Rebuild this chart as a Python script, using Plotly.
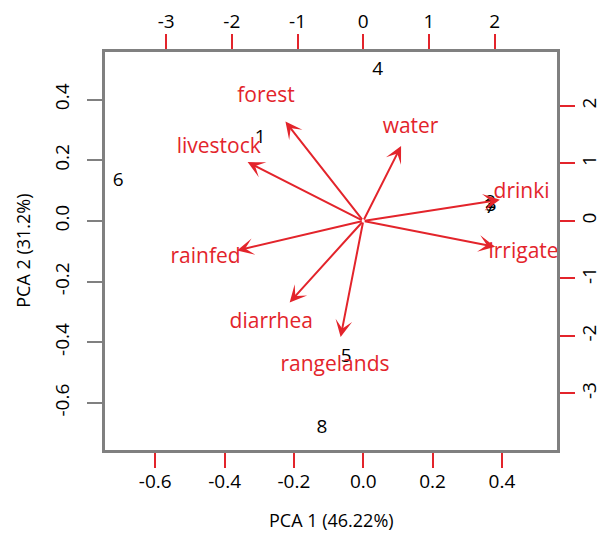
import plotly.graph_objects as go

# ---- data ----
obs_labels = ["1", "2", "3", "4", "5", "6", "7", "8"]
obs_pc1 = [-0.297, 0.367, 0.369, 0.0415, -0.049, -0.707, 0.366, -0.119]
obs_pc2 = [0.272, 0.058, 0.050, 0.4965, -0.448, 0.131, 0.042, -0.684]

var_labels = ["forest", "livestock", "rainfed", "diarrhea", "rangelands",
              "water", "drinki", "irrigate"]
# variable loadings (arrows are drawn to 80 % of these)
var_pc1 = [-1.48, -2.20, -2.40, -1.40, -0.43, 0.72, 2.60, 2.51]
var_pc2 = [2.16, 1.28, -0.64, -1.77, -2.52, 1.63, 0.46, -0.56]
# where each variable name is written
label_pc1 = [-1.48, -2.20, -2.40, -1.40, -0.43, 0.72, 2.41, 2.44]
label_pc2 = [2.16, 1.28, -0.64, -1.77, -2.52, 1.63, 0.49, -0.56]

x_ticks = [-0.6, -0.4, -0.2, 0.0, 0.2, 0.4]
x_ticktext = ["-0.6", "-0.4", "-0.2", "0.0", "0.2", "0.4"]
y_ticks = [-0.6, -0.4, -0.2, 0.0, 0.2, 0.4]
y_ticktext = ["-0.6", "-0.4", "-0.2", "0.0", "0.2", "0.4"]
top_ticks = [-3, -2, -1, 0, 1, 2]
right_ticks = [-3, -2, -1, 0, 1, 2]

x_title = "PCA 1 (46.22%)"
y_title = "PCA 2 (31.2%)"

# ---- style ----
RED = "#e3242b"
GRAY = "#808080"
FONT = "Open Sans"
ARROW_FRAC = 0.8
xr = [-0.745, 0.559]
yr = [-0.755, 0.557]
k = 5.276
x2r = [v * k for v in xr]
y2r = [v * k for v in yr]

fig = go.Figure()

fig.add_trace(go.Scatter(
    x=obs_pc1, y=obs_pc2, mode="text", text=obs_labels,
    textfont=dict(family=FONT, size=19, color="black"),
    xaxis="x", yaxis="y", cliponaxis=True, hoverinfo="skip", showlegend=False))

fig.add_trace(go.Scatter(
    x=label_pc1, y=label_pc2, mode="text", text=var_labels,
    textfont=dict(family=FONT, size=21, color=RED),
    xaxis="x2", yaxis="y2", cliponaxis=False, hoverinfo="skip", showlegend=False))

for vx, vy in zip(var_pc1, var_pc2):
    fig.add_annotation(
        x=vx * ARROW_FRAC, y=vy * ARROW_FRAC, ax=0, ay=0,
        xref="x2", yref="y2", axref="x2", ayref="y2",
        text="", showarrow=True, arrowhead=3, arrowsize=1.4,
        arrowwidth=2, arrowcolor=RED, standoff=0, startstandoff=0)

axis_common = dict(showgrid=False, zeroline=False, showline=True,
                   linecolor=GRAY, linewidth=2.5, ticks="outside",
                   ticklen=15, tickwidth=2, automargin=False,
                   tickfont=dict(family=FONT, size=19, color="black"))

fig.update_layout(
    width=598, height=534,
    margin=dict(l=105, r=41, t=52, b=84, autoexpand=False),
    plot_bgcolor="white", paper_bgcolor="white",
    xaxis=dict(range=xr, tickvals=x_ticks, ticktext=x_ticktext,
               tickcolor=RED, ticklabelstandoff=-3, **axis_common),
    yaxis=dict(range=yr, tickvals=y_ticks, ticktext=y_ticktext,
               tickcolor=GRAY, tickangle=-90, ticklabelstandoff=11,
               **axis_common),
    xaxis2=dict(range=x2r, tickvals=top_ticks,
                ticktext=[str(v) for v in top_ticks],
                overlaying="x", side="top", anchor="y",
                tickcolor=RED, ticklabelstandoff=-1, **axis_common),
    yaxis2=dict(range=y2r, tickvals=right_ticks,
                ticktext=[str(v) for v in right_ticks],
                overlaying="y", side="right", anchor="x",
                tickcolor=RED, tickangle=-90, ticklabelstandoff=-2,
                **axis_common),
    annotations=list(fig.layout.annotations) + [
        dict(text=x_title, xref="paper", yref="paper", x=0.5, y=-0.1757,
             xanchor="center", yanchor="middle", showarrow=False,
             font=dict(family=FONT, size=18, color="black")),
        dict(text=y_title, xref="paper", yref="paper", x=-0.182, y=0.5,
             xanchor="center", yanchor="middle", showarrow=False,
             textangle=-90, font=dict(family=FONT, size=18, color="black")),
    ],
)

fig.write_html("out.html")
